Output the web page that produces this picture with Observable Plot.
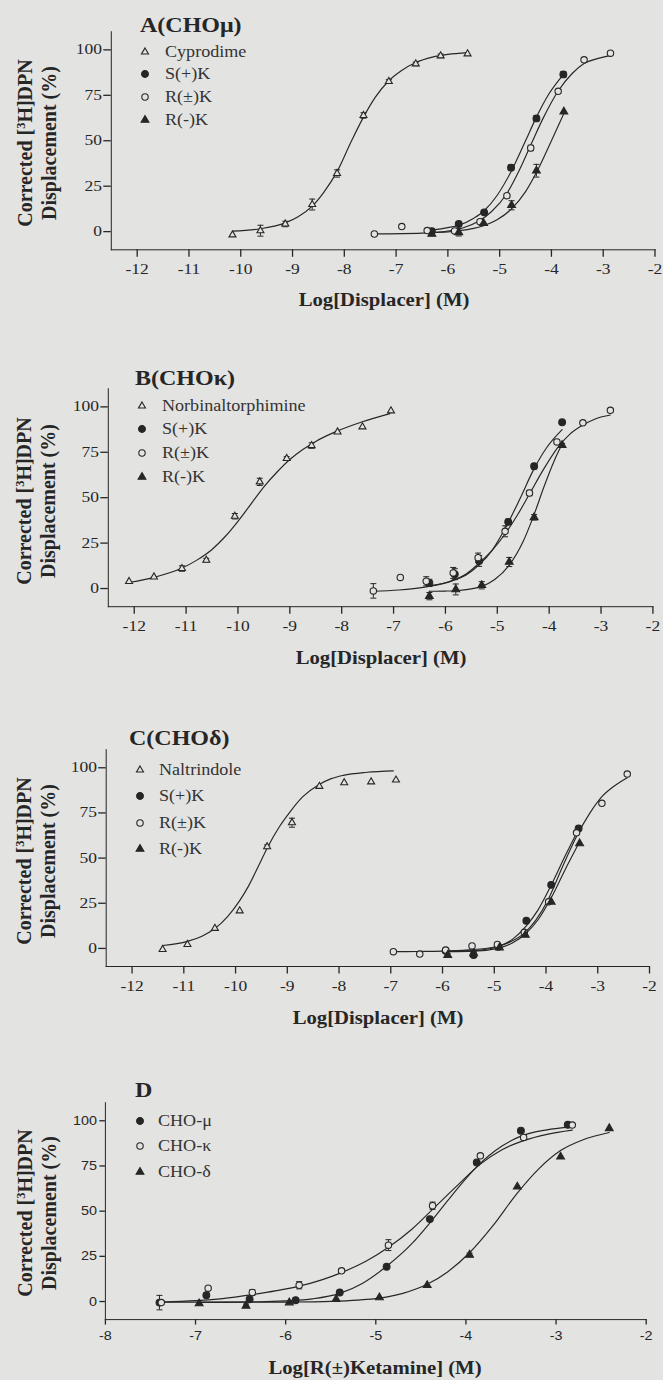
<!DOCTYPE html>
<html>
<head>
<meta charset="utf-8">
<script src="https://cdn.jsdelivr.net/npm/d3@7"></script>
<script src="https://cdn.jsdelivr.net/npm/@observablehq/plot@0.6"></script>
<style>
html, body { margin: 0; padding: 0; background: #e3e3e2; overflow: hidden; }
#page { position: relative; width: 663px; height: 1380px; overflow: hidden; background: #e3e3e2;
  font-family: "Liberation Serif", "Times New Roman", serif; color: #262626; }
.abs { position: absolute; white-space: nowrap; line-height: 1; }
.title { font-weight: bold; font-size: 20px; transform-origin: 0 50%; transform: translateY(-50%) scaleX(1.2); }
.xlab { font-weight: bold; font-size: 18px; transform: translate(-50%, -50%) scaleX(1.15); }
.ylab { font-weight: bold; font-size: 20px; transform: translate(-50%, -50%) rotate(-90deg); }
.ylab sup { font-size: 0.62em; vertical-align: 0.55em; line-height: 0; }
.leg { font-size: 16px; color: #333; transform-origin: 0 50%; transform: translateY(-50%) scaleX(1.13); }
#page svg g[aria-label*="axis"] { stroke-width: 1.3px; }
</style>
</head>
<body>
<div id="page"></div>
<script>
// ---------------- shared tick labels ----------------
const xTicksDisplacer = [-12, -11, -10, -9, -8, -7, -6, -5, -4, -3, -2];
const xTicksKetamine = [-8, -7, -6, -5, -4, -3, -2];
const yTicks = [0, 25, 50, 75, 100];

// ---------------- Panel A (CHO-mu) : [logC, %, sem] ----------------
const A_labels = ["Cyprodime", "S(+)K", "R(±)K", "R(-)K"];
const A_cyprodime = [[-10.16,-1.8,0],[-9.62,0.5,3],[-9.14,4.2,1.5],[-8.62,14.9,3],[-8.14,32.0,2],[-7.63,63.9,1.5],[-7.14,82.6,1],[-6.62,92.3,1],[-6.14,96.7,1],[-5.62,97.8,0]];
const A_cyprodime_fit = [[-10.16,0.3],[-9.62,1.6],[-9.14,4.8],[-8.9,8],[-8.62,14],[-8.4,21.5],[-8.14,33],[-7.86,50],[-7.63,63],[-7.4,74],[-7.14,83],[-6.9,88.5],[-6.62,93],[-6.3,96],[-6.0,97.5],[-5.62,98.5]];
const A_SK = [[-6.31,0.2,0],[-5.79,4.2,1],[-5.30,10.6,1],[-4.78,35.2,1.5],[-4.29,62.3,1.5],[-3.77,86.5,1.5]];
const A_SK_fit = [[-6.31,0.8],[-6.0,2.2],[-5.79,3.5],[-5.5,7.4],[-5.3,11.5],[-5.05,19.9],[-4.78,33],[-4.5,50],[-4.29,63],[-4.05,75.7],[-3.77,86.4]];
const A_RacK = [[-7.42,-1.3,0],[-6.89,2.8,0],[-6.40,0.6,0],[-5.87,0.4,0],[-5.38,5.5,0],[-4.86,19.8,1],[-4.40,46.0,1.5],[-3.87,77.2,1],[-3.37,94.5,0],[-2.86,98.2,0]];
const A_RacK_fit = [[-7.42,-1.25],[-6.5,-0.8],[-6.0,0.35],[-5.7,2.1],[-5.4,5.8],[-5.15,11.2],[-4.86,21],[-4.6,35],[-4.38,48.9],[-4.15,63],[-3.87,77.4],[-3.6,87],[-3.37,92.5],[-3.1,95.3],[-2.86,97]];
const A_RK = [[-6.31,-1.3,0],[-5.79,-0.4,2],[-5.31,4.6,0],[-4.77,14.5,2.5],[-4.29,33.5,3.5],[-3.76,66.0,0]];
const A_RK_fit = [[-6.31,-0.4],[-6.0,-0.1],[-5.79,0.5],[-5.5,1.8],[-5.31,3.2],[-5.05,6.5],[-4.77,12.5],[-4.5,22],[-4.29,32.5],[-4.0,50],[-3.76,65]];

// ---------------- Panel B (CHO-kappa) ----------------
const B_labels = ["Norbinaltorphimine", "S(+)K", "R(±)K", "R(-)K"];
const B_norBNI = [[-12.10,3.9,0],[-11.62,6.4,0],[-11.08,11.0,1.5],[-10.61,15.6,1],[-10.06,39.8,1.5],[-9.58,58.7,2],[-9.06,71.6,1],[-8.58,78.7,1.5],[-8.08,86.2,0],[-7.60,89.0,0],[-7.05,97.8,0]];
const B_norBNI_fit = [[-12.1,3.3],[-11.6,6.3],[-11.1,11],[-10.8,15.5],[-10.5,21.5],[-10.25,28.5],[-10.0,37],[-9.75,46.5],[-9.5,56],[-9.25,64],[-9.0,71],[-8.75,76.5],[-8.5,81],[-8.1,86.5],[-7.6,91.8],[-7.07,96.3]];
const B_SK = [[-6.31,3.1,2],[-5.82,7.9,3],[-5.35,15.2,3],[-4.79,36.7,1.5],[-4.29,67.3,1.5],[-3.75,91.5,0]];
const B_SK_fit = [[-6.31,1.5],[-6.0,3.2],[-5.82,4.8],[-5.6,7.5],[-5.35,13],[-5.1,21],[-4.85,33],[-4.57,49],[-4.29,66],[-4.05,77.5],[-3.75,87.5]];
const B_RacK = [[-7.39,-1.3,4],[-6.87,6.1,0],[-6.37,4.0,2.5],[-5.85,8.6,3],[-5.37,17.0,2.5],[-4.85,31.5,3],[-4.38,52.6,1.5],[-3.85,80.7,1],[-3.35,91.2,0],[-2.82,98.1,0]];
const B_RacK_fit = [[-7.39,-1.5],[-6.9,-0.8],[-6.4,0.8],[-5.85,4.5],[-5.6,8],[-5.37,13.5],[-5.1,21],[-4.85,30],[-4.6,41],[-4.38,52],[-4.1,66],[-3.85,77],[-3.6,85],[-3.35,90],[-3.1,93.5],[-2.82,95.5]];
const B_RK = [[-6.31,-4.2,2],[-5.80,-0.5,3],[-5.30,1.8,2],[-4.77,14.6,2.5],[-4.29,39.2,1.5],[-3.75,78.9,1]];
const B_RK_fit = [[-6.31,-1.5],[-6.0,-1.4],[-5.8,-1.2],[-5.5,-0.2],[-5.3,1.2],[-5.05,5],[-4.78,12.5],[-4.5,26],[-4.3,40],[-4.1,56],[-3.9,70.5],[-3.75,79.5]];

// ---------------- Panel C (CHO-delta) ----------------
const C_labels = ["Naltrindole", "S(+)K", "R(±)K", "R(-)K"];
const C_naltrindole = [[-11.41,-0.6,0],[-10.93,2.2,0],[-10.40,11.1,0],[-9.92,20.8,0],[-9.39,56.3,1],[-8.91,69.6,2.5],[-8.38,89.7,0],[-7.90,91.7,0],[-7.38,92.2,0],[-6.90,93.2,0]];
const C_naltrindole_fit = [[-11.41,1.6],[-10.93,3.9],[-10.65,6.8],[-10.4,11],[-10.15,17.8],[-9.92,26.5],[-9.75,34.5],[-9.55,46],[-9.39,55.5],[-9.15,67.5],[-8.95,75.5],[-8.7,84],[-8.4,90.5],[-8.15,94],[-7.92,95.8],[-7.46,97.5],[-6.95,98.3]];
const C_SK = [[-5.94,-1.3,0],[-5.40,-3.7,1],[-4.92,0.9,0],[-4.38,15.3,0],[-3.90,35.2,0],[-3.37,66.4,0]];
const C_SK_fit = [[-5.94,-1.5],[-5.4,-1.2],[-5.1,-0.2],[-4.9,1.2],[-4.65,5],[-4.38,12.5],[-4.15,21.5],[-3.9,35],[-3.65,50],[-3.37,66]];
const C_RacK = [[-6.95,-1.8,0],[-6.44,-3.1,0],[-5.94,-0.9,0],[-5.43,1.4,0],[-4.94,2.2,0],[-4.42,8.9,0],[-3.95,25.8,0],[-3.41,64.0,0],[-2.92,80.3,0],[-2.43,96.5,0]];
const C_RacK_fit = [[-6.95,-1.8],[-6.5,-1.7],[-6.0,-1.5],[-5.5,-0.8],[-5.0,0.8],[-4.7,3.5],[-4.42,8.5],[-4.2,15.5],[-3.95,27.5],[-3.7,44],[-3.41,62],[-3.15,75],[-2.92,84],[-2.7,89.5],[-2.43,94.5]];
const C_RK = [[-5.90,-3.7,1],[-5.40,-2.8,1],[-4.90,0.4,0],[-4.40,7.4,0],[-3.90,25.8,0],[-3.35,58.1,0]];
const C_RK_fit = [[-5.9,-1.8],[-5.4,-1.5],[-5.1,-0.8],[-4.9,0.3],[-4.65,3],[-4.4,8],[-4.15,16],[-3.9,28],[-3.65,42.5],[-3.35,59]];

// ---------------- Panel D (R(+/-)ketamine on three receptors) ----------------
const D_labels = ["CHO-μ", "CHO-κ", "CHO-δ"];
const D_mu = [[-7.40,-0.6,4],[-6.88,3.5,0],[-6.40,1.3,0],[-5.89,0.7,0],[-5.40,5.0,0],[-4.88,19.2,0],[-4.40,45.6,0],[-3.88,76.9,0],[-3.39,94.5,0],[-2.87,97.8,0]];
const D_mu_fit = [[-7.4,-0.3],[-6.8,-0.3],[-6.3,-0.1],[-6.0,0.4],[-5.7,1.5],[-5.4,4.5],[-5.15,10],[-4.88,19.5],[-4.6,32],[-4.4,43.5],[-4.2,56],[-4.0,68],[-3.88,74.5],[-3.6,86],[-3.39,91.5],[-3.1,95],[-2.87,96.5]];
const D_kappa = [[-7.38,-0.6,0],[-6.86,7.4,0],[-6.37,5.0,1.5],[-5.85,9.0,2],[-5.38,17.0,1],[-4.86,31.2,3],[-4.37,53.0,2],[-3.84,80.6,0],[-3.36,90.8,1],[-2.82,97.6,0]];
const D_kappa_fit = [[-7.38,-0.3],[-7.0,0.5],[-6.7,1.6],[-6.37,3.8],[-6.1,6],[-5.85,8.5],[-5.6,12],[-5.38,16],[-5.1,22.5],[-4.86,30],[-4.6,40],[-4.37,51],[-4.1,64],[-3.84,76],[-3.6,84],[-3.36,89],[-3.1,92.5],[-2.82,94.8]];
const D_delta = [[-6.96,-1.1,0],[-6.44,-2.4,1],[-5.96,-0.6,0],[-5.44,1.3,0],[-4.96,2.2,0],[-4.43,9.0,0],[-3.96,25.8,1],[-3.43,63.5,0],[-2.95,80.1,0],[-2.41,95.8,0]];
const D_delta_fit = [[-6.96,-0.5],[-6.4,-0.4],[-6.0,-0.3],[-5.5,0.1],[-5.2,0.8],[-4.96,1.9],[-4.7,4.5],[-4.43,9.5],[-4.2,16.5],[-3.96,27],[-3.7,42],[-3.43,60],[-3.2,73],[-2.95,83.5],[-2.7,89.5],[-2.41,93.5]];

// ---------------- styling ----------------
const INK = "#262626", BG = "#e3e3e2";
const SYM = {
  openTri:      {symbol: "triangle", r: 2.6, filled: false},
  filledCircle: {symbol: "circle",   r: 3.4, filled: true},
  openCircle:   {symbol: "circle",   r: 3.2, filled: false},
  filledTri:    {symbol: "triangle", r: 2.9, filled: true}
};
const capSymbol = {draw(ctx) { ctx.moveTo(-3, 0); ctx.lineTo(3, 0); }};

const page = document.getElementById("page");
function addDiv(cls, html, style) {
  const d = document.createElement("div");
  d.className = "abs " + cls;
  d.innerHTML = html;
  Object.assign(d.style, style);
  page.appendChild(d);
  return d;
}

function legendSymbol(sym, cx, cy) {
  const ns = "http://www.w3.org/2000/svg";
  const s = document.createElementNS(ns, "svg");
  s.setAttribute("width", 16); s.setAttribute("height", 16);
  s.style.position = "absolute"; s.style.left = (cx - 8) + "px"; s.style.top = (cy - 8) + "px";
  const p = document.createElementNS(ns, "path");
  const type = sym.symbol === "triangle" ? d3.symbolTriangle : d3.symbolCircle;
  p.setAttribute("d", d3.symbol(type, sym.r * sym.r * Math.PI)());
  p.setAttribute("transform", "translate(8,8)");
  p.setAttribute("fill", sym.filled ? INK : BG);
  p.setAttribute("stroke", INK);
  p.setAttribute("stroke-width", 1.1);
  s.appendChild(p);
  page.appendChild(s);
}

function drawPanel(cfg) {
  const marks = [];
  for (const s of cfg.series) {
    marks.push(Plot.line(s.fit, {x: d => d[0], y: d => d[1], curve: "monotone-x", stroke: INK, strokeWidth: 1.15}));
  }
  for (const s of cfg.series) {
    const eb = s.pts.filter(d => d[2] > 0);
    marks.push(Plot.ruleX(eb, {x: d => d[0], y1: d => d[1] - d[2], y2: d => d[1] + d[2], stroke: INK, strokeWidth: 1}));
    marks.push(Plot.dot(eb, {x: d => d[0], y: d => d[1] + d[2], symbol: capSymbol, r: 3, fill: "none", stroke: INK, strokeWidth: 1}));
    marks.push(Plot.dot(eb, {x: d => d[0], y: d => d[1] - d[2], symbol: capSymbol, r: 3, fill: "none", stroke: INK, strokeWidth: 1}));
  }
  for (const s of cfg.series) {
    marks.push(Plot.dot(s.pts, {x: d => d[0], y: d => d[1], symbol: s.sym.symbol, r: s.sym.r,
      fill: s.sym.filled ? INK : BG, stroke: INK, strokeWidth: 1.1}));
  }
  const svg = Plot.plot({
    width: 663,
    height: cfg.height,
    marginTop: cfg.yTop - cfg.top,
    marginBottom: cfg.top + cfg.height - cfg.yBottom,
    marginLeft: cfg.ml,
    marginRight: cfg.mr,
    style: {background: "transparent", fontFamily: cfg.tickFont, fontSize: cfg.tickFontSize + "px", color: INK, overflow: "visible"},
    x: {domain: cfg.xDomain, ticks: cfg.xTicks, tickFormat: d => String(d), tickSize: cfg.tickSize, tickPadding: cfg.xPad, line: true, label: null},
    y: {domain: [-10, 110], ticks: yTicks, tickFormat: d => String(d), tickSize: cfg.tickSize, tickPadding: cfg.yPad, line: true, label: null},
    marks
  });
  svg.style.position = "absolute";
  svg.style.left = "0px";
  svg.style.top = cfg.top + "px";
  svg.querySelectorAll('g[aria-label$="tick label"] text').forEach(t => {
    t.setAttribute("transform", (t.getAttribute("transform") || "") + ` scale(${cfg.tickStretch},1)`);
  });
  page.appendChild(svg);

  // title
  addDiv("title", cfg.title, {left: cfg.titleX + "px", top: cfg.titleY + "px"});
  // y label (two lines)
  const yc = (cfg.yTop + cfg.yBottom) / 2 + 3;
  addDiv("ylab", "Corrected [<sup>3</sup>H]DPN", {left: cfg.yLab1X + "px", top: yc + "px"});
  addDiv("ylab", "Displacement (%)", {left: cfg.yLab2X + "px", top: yc + "px"});
  // x label
  addDiv("xlab", cfg.xLabel, {left: cfg.xLabelX + "px", top: cfg.xLabelY + "px"});
  // legend
  cfg.series.forEach((s, i) => {
    const cy = cfg.legY0 + i * cfg.legDy;
    legendSymbol(s.sym, cfg.legSymX, cy);
    addDiv("leg", cfg.labels[i], {left: cfg.legTextX + "px", top: cy + "px"});
  });
}

const serif = '"Liberation Serif", "Times New Roman", serif';
const sans = '"Liberation Sans", Arial, sans-serif';

drawPanel({
  top: 0, height: 290, yTop: 31.2, yBottom: 249.3, ml: 110.8, mr: 8.5,
  xDomain: [-12.5, -2], xTicks: xTicksDisplacer,
  tickFont: serif, tickFontSize: 14, tickStretch: 1.25, tickSize: 7.5, xPad: 7, yPad: 1.8,
  title: "A(CHOμ)", titleX: 139.5, titleY: 25,
  yLab1X: 25, yLab2X: 48.5,
  xLabel: "Log[Displacer] (M)", xLabelX: 383.6, xLabelY: 300,
  legSymX: 145, legTextX: 165, legY0: 51.7, legDy: 22.6, labels: A_labels,
  series: [
    {pts: A_cyprodime, fit: A_cyprodime_fit, sym: SYM.openTri},
    {pts: A_SK, fit: A_SK_fit, sym: SYM.filledCircle},
    {pts: A_RacK, fit: A_RacK_fit, sym: SYM.openCircle},
    {pts: A_RK, fit: A_RK_fit, sym: SYM.filledTri}
  ]
});

drawPanel({
  top: 357.3, height: 290, yTop: 388.5, yBottom: 606.5, ml: 107.8, mr: 10.6,
  xDomain: [-12.5, -2], xTicks: xTicksDisplacer,
  tickFont: serif, tickFontSize: 14, tickStretch: 1.25, tickSize: 7.5, xPad: 7, yPad: 1.8,
  title: "B(CHOκ)", titleX: 135, titleY: 378,
  yLab1X: 23.5, yLab2X: 47.5,
  xLabel: "Log[Displacer] (M)", xLabelX: 380.5, xLabelY: 658.3,
  legSymX: 141.6, legTextX: 162, legY0: 405.7, legDy: 23.6, labels: B_labels,
  series: [
    {pts: B_norBNI, fit: B_norBNI_fit, sym: SYM.openTri},
    {pts: B_SK, fit: B_SK_fit, sym: SYM.filledCircle},
    {pts: B_RacK, fit: B_RacK_fit, sym: SYM.openCircle},
    {pts: B_RK, fit: B_RK_fit, sym: SYM.filledTri}
  ]
});

drawPanel({
  top: 718.4, height: 290, yTop: 749.6, yBottom: 966.4, ml: 105.7, mr: 14,
  xDomain: [-12.5, -2], xTicks: xTicksDisplacer,
  tickFont: serif, tickFontSize: 14, tickStretch: 1.25, tickSize: 7.5, xPad: 7, yPad: 1.8,
  title: "C(CHOδ)", titleX: 129, titleY: 738.3,
  yLab1X: 23.5, yLab2X: 47.5,
  xLabel: "Log[Displacer] (M)", xLabelX: 378.4, xLabelY: 1018,
  legSymX: 139.5, legTextX: 158.6, legY0: 770, legDy: 26.4, labels: C_labels,
  series: [
    {pts: C_naltrindole, fit: C_naltrindole_fit, sym: SYM.openTri},
    {pts: C_SK, fit: C_SK_fit, sym: SYM.filledCircle},
    {pts: C_RacK, fit: C_RacK_fit, sym: SYM.openCircle},
    {pts: C_RK, fit: C_RK_fit, sym: SYM.filledTri}
  ]
});

drawPanel({
  top: 1070.7, height: 280, yTop: 1101.9, yBottom: 1318.8, ml: 104.9, mr: 17.3,
  xDomain: [-8, -2], xTicks: xTicksKetamine,
  tickFont: sans, tickFontSize: 12.5, tickStretch: 1.15, tickSize: 5.5, xPad: 6.5, yPad: 3,
  title: "D", titleX: 134.5, titleY: 1090,
  yLab1X: 25, yLab2X: 48.5,
  xLabel: "Log[R(±)Ketamine] (M)", xLabelX: 375.3, xLabelY: 1368,
  legSymX: 139.5, legTextX: 157.7, legY0: 1120.5, legDy: 25.5, labels: D_labels,
  series: [
    {pts: D_mu, fit: D_mu_fit, sym: SYM.filledCircle},
    {pts: D_kappa, fit: D_kappa_fit, sym: SYM.openCircle},
    {pts: D_delta, fit: D_delta_fit, sym: SYM.filledTri}
  ]
});
</script>
</body>
</html>
